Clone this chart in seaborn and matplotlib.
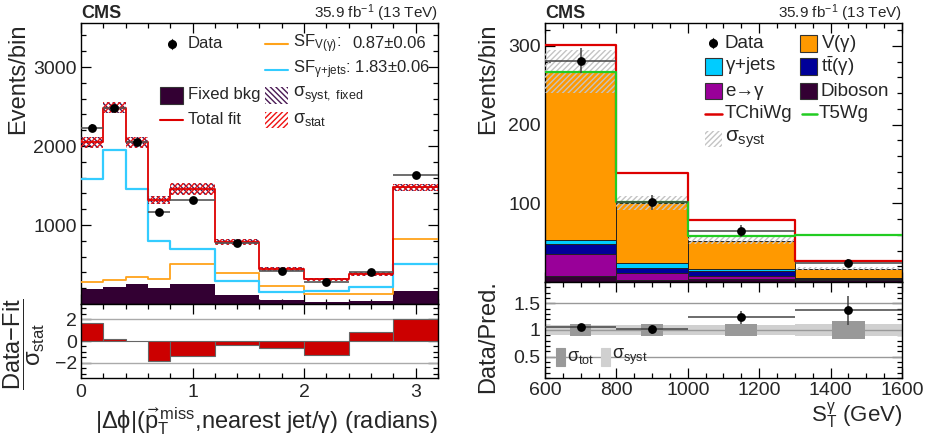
import numpy as np
import pandas as pd
import matplotlib
matplotlib.use("Agg")
import matplotlib.pyplot as plt
import seaborn as sns
from matplotlib.patches import Rectangle
from matplotlib.ticker import MultipleLocator, FuncFormatter

# ---------------- data: left panel (delta phi fit) ----------------
dphi_edges = [0.0, 0.2, 0.4, 0.6, 0.8, 1.2, 1.6, 2.0, 2.4, 2.8, 3.2]
dphi_data = [2232, 2485, 2046, 1169, 1316, 768, 422, 278, 401, 1629]
dphi_data_err = [47, 50, 45, 34, 36, 28, 21, 17, 20, 40]
dphi_total_fit = [2046, 2482, 2050, 1316, 1456, 781, 447, 312, 384, 1477]
dphi_gjets = [1582, 1949, 1456, 793, 696, 291, 154, 169, 215, 506]
dphi_vgamma = [278, 304, 346, 321, 506, 392, 232, 125, 131, 819]
dphi_fixed_bkg = [186, 215, 249, 203, 249, 114, 51, 20, 38, 165]
dphi_band = [68, 70, 70, 46, 74, 38, 25, 21, 25, 42]
dphi_pull = [1.67, 0.15, -0.03, -1.82, -1.42, -0.36, -0.60, -1.30, 0.82, 2.03]

# ---------------- data: right panel (S_T^gamma) ----------------
st_edges = [600, 800, 1000, 1300, 1600]
st_data = [281, 101, 65, 24]
st_data_err = [16, 10, 8, 5]
st_diboson = [7.6, 2.5, 3.5, 2.5]
st_egamma = [27.6, 8.5, 3.5, 1.0]
st_ttgamma = [12.7, 7.0, 6.5, 1.0]
st_gjets = [5.5, 5.7, 3.0, 0.5]
st_vgamma = [213.6, 76.3, 36.0, 12.0]
st_syst = [27.5, 9.0, 4.5, 2.2]
st_tchiwg = [301, 138, 79, 27]
st_t5wg = [267, 102, 59, 60]
st_ratio = [1.056, 1.01, 1.24, 1.37]
st_ratio_err = [0.05, 0.08, 0.12, 0.27]
st_ratio_syst = [0.10, 0.09, 0.10, 0.11]
st_ratio_tot = [0.12, 0.115, 0.12, 0.16]

# ---------------- style ----------------
sns.set_theme(style="ticks")
plt.rcParams["font.family"] = ["Liberation Sans", "DejaVu Sans"]
plt.rcParams["mathtext.fontset"] = "custom"
plt.rcParams["mathtext.rm"] = "Liberation Sans"
plt.rcParams["mathtext.it"] = "Liberation Sans"
plt.rcParams["mathtext.sf"] = "Liberation Sans"
plt.rcParams["mathtext.bf"] = "Liberation Sans:bold"
plt.rcParams["mathtext.fallback"] = "stixsans"
plt.rcParams["hatch.linewidth"] = 1.0
plt.rcParams["axes.linewidth"] = 1.0

W, H = 928, 441
fig = plt.figure(figsize=(W / 100, H / 100), dpi=100)


def box(x0, y0, x1, y1):
    return [x0 / W, 1 - y1 / H, (x1 - x0) / W, (y1 - y0) / H]


axL = fig.add_axes(box(81, 23, 438, 304))
axLr = fig.add_axes(box(81, 304, 438, 378))
axR = fig.add_axes(box(545, 23, 902, 282))
axRr = fig.add_axes(box(545, 282, 902, 378))

TICK_FS = 14


def style_axis(ax, xmaj, xmin, ymaj, ymin):
    ax.xaxis.set_major_locator(MultipleLocator(xmaj))
    ax.xaxis.set_minor_locator(MultipleLocator(xmin))
    ax.yaxis.set_major_locator(MultipleLocator(ymaj))
    ax.yaxis.set_minor_locator(MultipleLocator(ymin))
    ax.tick_params(which="both", direction="in", top=True, right=True,
                   labelsize=TICK_FS, width=0.9, color="black")
    ax.tick_params(which="major", length=7, pad=3)
    ax.tick_params(which="minor", length=3.5)
    for s in ax.spines.values():
        s.set_color("black")
        s.set_linewidth(1.0)
    ax.set_xlabel("")
    ax.set_ylabel("")


def hist(ax, centers, weights, edges, **kw):
    df = pd.DataFrame({"x": list(centers), "w": list(weights)})
    sns.histplot(data=df, x="x", weights="w", bins=list(edges), element="bars",
                 alpha=1, ax=ax, **kw)


def step(ax, edges, vals, color, lw, z=3):
    sns.lineplot(x=list(edges), y=list(vals) + [vals[-1]], drawstyle="steps-post",
                 color=color, lw=lw, ax=ax, legend=False, errorbar=None, zorder=z)


def nolabel_zero(fmt):
    def f(v, pos):
        if abs(v) < 1e-9:
            return ""
        return fmt(v)
    return FuncFormatter(f)


# ================= LEFT TOP =================
e = np.array(dphi_edges)
c = 0.5 * (e[1:] + e[:-1])
w = np.diff(e)
hist(axL, c, dphi_fixed_bkg, e, color="#330033", linewidth=0, zorder=2)
step(axL, e, dphi_vgamma, "#ffa31a", 1.3)
step(axL, e, dphi_gjets, "#33ccff", 1.6)
tot = np.array(dphi_total_fit)
band = np.array(dphi_band)
axL.bar(c, 2 * band, bottom=tot - band, width=w, fill=False, hatch="\\\\\\\\\\\\",
        edgecolor="#4b1a55", linewidth=0, zorder=4)
axL.bar(c, 2 * band, bottom=tot - band, width=w, fill=False, hatch="//////",
        edgecolor="#ee1111", linewidth=0, zorder=4)
step(axL, e, dphi_total_fit, "#dd0000", 1.3, z=5)
axL.errorbar(c, dphi_data, xerr=w / 2, yerr=dphi_data_err, fmt="none",
             ecolor="#555555", elinewidth=1.2, capsize=0, zorder=6)
sns.scatterplot(x=c, y=dphi_data, color="black", s=40, edgecolor="black",
                linewidth=0, ax=axL, zorder=7, legend=False)
style_axis(axL, 1, 0.2, 1000, 200)
axL.set_xlim(0, 3.2)
axL.set_ylim(0, 3557)
axL.xaxis.set_major_formatter(FuncFormatter(lambda v, p: ""))
axL.yaxis.set_major_formatter(nolabel_zero(lambda v: "%d" % v))

# ================= LEFT BOTTOM =================
for yv in (-2, 2):
    axLr.axhline(yv, color="#aaaaaa", lw=1.0, zorder=1)
hist(axLr, c, dphi_pull, e, color="#cc0000", edgecolor="#666666", linewidth=0.8, zorder=2)
style_axis(axLr, 1, 0.2, 2, 0.5)
axLr.set_xlim(0, 3.2)
axLr.set_ylim(-3.4, 3.4)
axLr.tick_params(axis="x", which="major", pad=4)
axLr.xaxis.set_major_formatter(FuncFormatter(lambda v, p: "%d" % round(v)))
axLr.yaxis.set_major_formatter(FuncFormatter(lambda v, p: ("%d" % round(v)).replace("-", "\u2212")))

# ================= RIGHT TOP =================
se = np.array(st_edges, dtype=float)
sc = 0.5 * (se[1:] + se[:-1])
sw = np.diff(se)
layers = [
    (st_diboson, "#330033"),
    (st_egamma, "#990099"),
    (st_ttgamma, "#000099"),
    (st_gjets, "#00ccff"),
    (st_vgamma, "#ff9900"),
]
cum = np.cumsum(np.array([l[0] for l in layers]), axis=0)
for i in reversed(range(len(layers))):
    hist(axR, sc, cum[i], se, color=layers[i][1], edgecolor="#222222",
         linewidth=0.7, zorder=2)
stot = cum[-1]
ssy = np.array(st_syst)
axR.bar(sc, 2 * ssy, bottom=stot - ssy, width=sw, fill=False, hatch="//////",
        edgecolor="#c4c4c4", linewidth=0, zorder=3)
step(axR, se, st_tchiwg, "#dd0000", 1.6, z=4)
step(axR, se, st_t5wg, "#22cc22", 1.6, z=4)
axR.errorbar(sc, st_data, xerr=sw / 2, yerr=st_data_err, fmt="none",
             ecolor="#444444", elinewidth=1.1, capsize=0, zorder=6)
sns.scatterplot(x=sc, y=st_data, color="black", s=40, linewidth=0, ax=axR,
                zorder=7, legend=False)
style_axis(axR, 200, 50, 100, 20)
axR.set_xlim(600, 1600)
axR.set_ylim(0, 329)
axR.xaxis.set_major_formatter(FuncFormatter(lambda v, p: ""))
axR.yaxis.set_major_formatter(nolabel_zero(lambda v: "%d" % v))

# ================= RIGHT BOTTOM =================
rs = np.array(st_ratio_syst)
rt = np.array(st_ratio_tot)
axRr.bar(sc, 2 * rs, bottom=1 - rs, width=sw, color="#d0d0d0", linewidth=0, zorder=1)
for yv in (0.5, 1.0, 1.5):
    axRr.axhline(yv, color="#999999", lw=1.0, zorder=1.5)
axRr.bar(sc, 2 * rt, bottom=1 - rt, width=0.3 * sw, color="#999999", linewidth=0, zorder=2)
axRr.errorbar(sc, st_ratio, xerr=sw / 2, yerr=st_ratio_err, fmt="none",
              ecolor="#444444", elinewidth=1.1, capsize=0, zorder=6)
sns.scatterplot(x=sc, y=st_ratio, color="black", s=40, linewidth=0, ax=axRr,
                zorder=7, legend=False)
style_axis(axRr, 200, 50, 0.5, 0.1)
axRr.set_xlim(600, 1600)
axRr.set_ylim(0.1, 1.9)
axRr.xaxis.set_major_formatter(FuncFormatter(lambda v, p: "%d" % round(v)))
axRr.yaxis.set_major_formatter(FuncFormatter(lambda v, p: "%g" % v))

# ================= overlay: labels and legends (pixel coordinates) =================
ov = fig.add_axes([0, 0, 1, 1], zorder=20)
ov.set_xlim(0, W)
ov.set_ylim(H, 0)
ov.axis("off")
ov.patch.set_alpha(0)

# headers
for x0, x1 in ((81, 438), (545, 902)):
    ov.text(x0, 18.5, "CMS", fontsize=13, fontweight="bold", ha="left", va="baseline")
    ov.text(x1, 18.5, r"35.9 fb$^{\mathrm{-1}}$ (13 TeV)", fontsize=11, ha="right", va="baseline")

# axis titles
ov.text(18, 24, "Events/bin", rotation=90, fontsize=17, ha="center", va="top")
ov.text(488, 24, "Events/bin", rotation=90, fontsize=17, ha="center", va="top")
ov.text(24, 344, r"$\dfrac{\mathrm{Data{-}Fit}}{\sigma_{\mathrm{stat}}}$",
        rotation=90, fontsize=17, ha="center", va="center")
ov.text(488, 280, "Data/Pred.", rotation=90, fontsize=17, ha="center", va="top")
ov.text(438, 421, r"$|\Delta\phi|(\vec{p}_{\mathrm{T}}^{\,\mathrm{miss}}$,nearest jet/$\gamma$) (radians)",
        fontsize=17, ha="right", va="center")
ov.text(902, 416, r"$\mathrm{S}_{\mathrm{T}}^{\gamma}$ (GeV)", fontsize=16, ha="right", va="center")

LFS = 12

def lg_marker(x, y):
    ov.plot([x, x], [y - 5, y + 5], color="#444444", lw=1.0)
    ov.plot([x], [y], "o", color="black", ms=5.5)

def lg_line(x0, x1, y, color, lw=1.5):
    ov.plot([x0, x1], [y, y], color=color, lw=lw)

def lg_box(x0, y0, x1, y1, color, edge="#333333"):
    ov.add_patch(Rectangle((x0, y0), x1 - x0, y1 - y0, facecolor=color,
                           edgecolor=edge, lw=0.8))

def lg_hatch(x0, y0, x1, y1, hatch, color):
    ov.add_patch(Rectangle((x0, y0), x1 - x0, y1 - y0, fill=False, hatch=hatch,
                           edgecolor=color, lw=0))

# left legend
lg_marker(172, 44)
ov.text(188, 44, "Data", fontsize=LFS, va="center")
lg_line(265, 288, 44, "#ffa31a")
ov.text(293, 44, r"SF$_{\mathrm{V(\gamma)}}$:", fontsize=LFS, va="center")
ov.text(352, 44, "0.87\u00b10.06", fontsize=LFS, va="center")
lg_line(265, 288, 70, "#33ccff")
ov.text(293, 70, r"SF$_{\gamma\mathrm{+jets}}$: 1.83$\pm$0.06", fontsize=LFS, va="center")
lg_box(160, 87, 183, 104, "#330033")
ov.text(188, 95, "Fixed bkg", fontsize=LFS, va="center")
lg_hatch(265, 87, 288, 104, "\\\\\\\\\\\\", "#4b1a55")
ov.text(293, 95, r"$\sigma_{\mathrm{syst,\ fixed}}$", fontsize=LFS + 1, va="center")
lg_line(160, 183, 120, "#dd0000")
ov.text(188, 120, "Total fit", fontsize=LFS, va="center")
lg_hatch(265, 112, 288, 128, "//////", "#ee1111")
ov.text(293, 120, r"$\sigma_{\mathrm{stat}}$", fontsize=LFS + 1, va="center")

# right legend
RFS = 13.5
lg_marker(713, 43)
ov.text(725, 43, "Data", fontsize=RFS, va="center")
lg_box(800, 35, 817, 52, "#ff9900")
ov.text(821, 43, r"V($\gamma$)", fontsize=RFS, va="center")
lg_box(705, 58, 722, 75, "#00ccff")
ov.text(725, 66, r"$\gamma$+jets", fontsize=RFS, va="center")
lg_box(800, 58, 817, 75, "#000099")
ov.text(821, 66, r"$\mathrm{t\bar{t}}(\gamma)$", fontsize=RFS, va="center")
lg_box(705, 83, 722, 99, "#990099")
ov.text(725, 91, "e\u2192\u03b3", fontsize=RFS, va="center")
lg_box(800, 83, 817, 99, "#330033")
ov.text(821, 91, "Diboson", fontsize=RFS, va="center")
lg_line(705, 722, 114, "#dd0000", 1.8)
ov.text(725, 114, "TChiWg", fontsize=RFS, va="center")
lg_line(802, 817, 114, "#22cc22", 1.8)
ov.text(819, 114, "T5Wg", fontsize=RFS, va="center")
lg_hatch(705, 131, 722, 147, "//////", "#c4c4c4")
ov.text(725, 139, r"$\sigma_{\mathrm{syst}}$", fontsize=RFS + 1.5, va="center")

# ratio legend
lg_box(556, 348, 565, 366, "#999999", edge="#999999")
ov.text(567, 357, r"$\sigma_{\mathrm{tot}}$", fontsize=13, va="center")
lg_box(601, 348, 610, 366, "#d0d0d0", edge="#d0d0d0")
ov.text(612, 357, r"$\sigma_{\mathrm{syst}}$", fontsize=13, va="center")

fig.savefig("out.png", dpi=100)
